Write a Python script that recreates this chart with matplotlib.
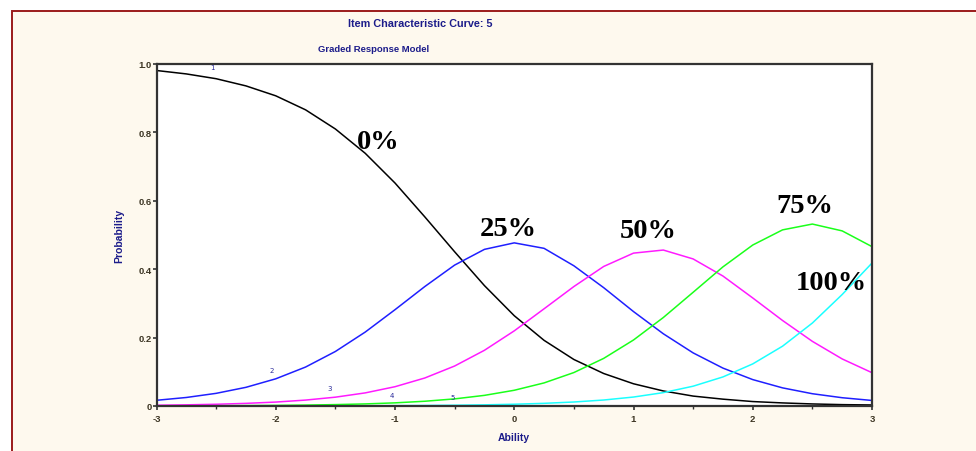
import matplotlib
matplotlib.use('Agg')
import matplotlib.pyplot as plt
from matplotlib.patches import Rectangle
from matplotlib.ticker import MultipleLocator

# ability grid and category probabilities
ability = [-3.0, -2.75, -2.5, -2.25, -2.0, -1.75, -1.5, -1.25, -1.0, -0.75, -0.5, -0.25,
           0.0, 0.25, 0.5, 0.75, 1.0, 1.25, 1.5, 1.75, 2.0, 2.25, 2.5, 2.75, 3.0]
p_0 = [0.981, 0.971, 0.957, 0.936, 0.907, 0.866, 0.810, 0.739, 0.652, 0.553, 0.451, 0.352,
       0.264, 0.192, 0.136, 0.095, 0.065, 0.044, 0.029, 0.020, 0.013, 0.009, 0.006, 0.004, 0.003]
p_25 = [0.0167, 0.0249, 0.0370, 0.0546, 0.0795, 0.1139, 0.1594, 0.2161, 0.2816, 0.3493, 0.4120, 0.4580,
        0.4770, 0.4610, 0.4100, 0.3460, 0.2761, 0.2112, 0.1553, 0.1108, 0.0772, 0.0530, 0.0359, 0.0242, 0.0162]
p_50 = [0.0022, 0.0034, 0.0051, 0.0077, 0.0115, 0.0173, 0.0258, 0.0383, 0.0564, 0.0819, 0.1169, 0.1629,
        0.2197, 0.2842, 0.3493, 0.4080, 0.4470, 0.4560, 0.4300, 0.3800, 0.3159, 0.2500, 0.1890, 0.1376, 0.0974]
p_75 = [0.0004, 0.0006, 0.0008, 0.0012, 0.0018, 0.0027, 0.0041, 0.0061, 0.0092, 0.0139, 0.0208, 0.0311,
        0.0460, 0.0675, 0.0978, 0.1392, 0.1930, 0.2587, 0.3325, 0.4068, 0.4707, 0.5150, 0.5320, 0.5120, 0.4660]
p_100 = [0.0000, 0.0000, 0.0001, 0.0001, 0.0002, 0.0003, 0.0004, 0.0007, 0.0010, 0.0015, 0.0023, 0.0034,
         0.0052, 0.0078, 0.0117, 0.0175, 0.0262, 0.0391, 0.0579, 0.0850, 0.1231, 0.1749, 0.2426, 0.3260, 0.4180]

curve_labels = ['0%', '25%', '50%', '75%', '100%']
curve_colors = ['black', '#1f1fff', '#ff1aff', '#1aff1a', '#1affff']
label_pos = [(-1.14, 0.774), (-0.05, 0.519), (1.12, 0.513), (2.44, 0.587), (2.66, 0.361)]

item_numbers = ['1', '2', '3', '4', '5']
item_pos = [(-2.53, 0.99), (-2.03, 0.106), (-1.55, 0.053), (-1.03, 0.032), (-0.52, 0.026)]

xticks = [-3, -2, -1, 0, 1, 2, 3]
yticks = [0, 0.2, 0.4, 0.6, 0.8, 1.0]
ytick_labels = ['0', '0.2', '0.4', '0.6', '0.8', '1.0']

navy = '#1c1c8a'
tick_col = '#3d3624'

fig = plt.figure(figsize=(9.76, 4.52), dpi=100, facecolor='white')
# cream panel with the dark red frame on the left and top
frame = Rectangle((11.5 / 976, -0.05), 1.2, 1.05 - 11.5 / 452, transform=fig.transFigure,
                  facecolor='#fef9ee', edgecolor='#9b1b1b', linewidth=1.4, zorder=-5)
fig.patches.append(frame)

ax = fig.add_axes([156.5 / 976, 1 - 407 / 452, 715.5 / 976, 342 / 452])
ax.set_facecolor('white')

series = [p_0, p_25, p_50, p_75, p_100]
for vals, col in zip(series, curve_colors):
    ax.plot(ability, vals, color=col, linewidth=1.1, solid_joinstyle='round')

for lab, (x, y) in zip(curve_labels, label_pos):
    ax.text(x, y, lab, family='Liberation Serif', fontweight='bold', fontsize=20.5,
            ha='center', va='center', color='black')

for lab, (x, y) in zip(item_numbers, item_pos):
    ax.text(x, y, lab, fontsize=5, color='#2a2a9a', ha='center', va='center')

ax.set_xlim(-3, 3)
ax.set_ylim(0, 1)
ax.set_xticks(xticks)
ax.set_xticklabels([str(t) for t in xticks])
ax.xaxis.set_minor_locator(MultipleLocator(0.5))
ax.set_yticks(yticks)
ax.set_yticklabels(ytick_labels)

for s in ax.spines.values():
    s.set_color('#333333')
    s.set_linewidth(1.6)

ax.tick_params(axis='both', which='major', length=3, width=1.2, color='#333333',
               labelsize=6.8, labelcolor=tick_col)
ax.tick_params(axis='y', which='major', pad=0.5)
ax.tick_params(axis='x', which='major', pad=2.5)
ax.tick_params(axis='x', which='minor', length=2, width=1.0, color='#333333')
for t in ax.get_xticklabels() + ax.get_yticklabels():
    t.set_fontweight('bold')
    t.set_family('Liberation Sans')

ax.set_xlabel('Ability', fontsize=7.5, color=navy, fontweight='bold', family='Liberation Sans', labelpad=7)
ax.set_ylabel('Probability', fontsize=7.5, color=navy, fontweight='bold', family='Liberation Sans', labelpad=10)

fig.text(420 / 976, 1 - 24 / 452, 'Item Characteristic Curve: 5', fontsize=7.8, fontweight='bold',
         color=navy, family='Liberation Sans', ha='center', va='center')
fig.text(374 / 976, 1 - 49 / 452, 'Graded Response Model', fontsize=6.8, fontweight='bold',
         color=navy, family='Liberation Sans', ha='center', va='center')

plt.savefig('out.png', dpi=100, facecolor=fig.get_facecolor())
